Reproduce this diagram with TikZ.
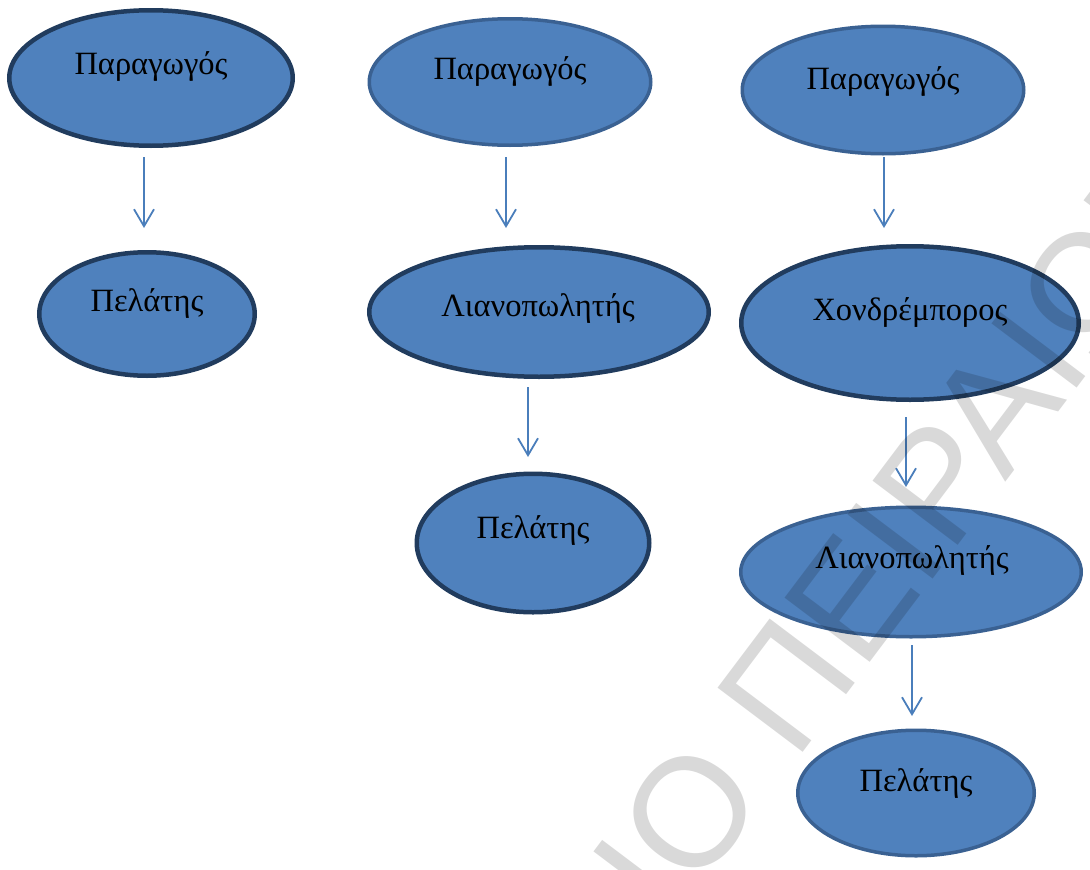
\documentclass[tikz,border=0pt]{standalone}
\usepackage{fontspec}
\setmainfont{Liberation Serif}
\newfontfamily\wmfont{Liberation Sans}
\usetikzlibrary{arrows.meta,shapes.geometric}
\definecolor{fillblue}{HTML}{4F81BD}
\definecolor{darkrim}{HTML}{213C5E}
\definecolor{lightrim}{HTML}{3A6192}
\definecolor{arrowblue}{HTML}{4A7EBB}
\tikzset{
  oval/.style={ellipse, fill=fillblue, inner sep=0pt},
  darkoval/.style={oval, draw=darkrim, line width=4.5pt},
  lightoval/.style={oval, draw=lightrim, line width=3.5pt},
  lbl/.style={anchor=base, inner sep=0pt, font=\fontsize{32.5}{39}\selectfont},
  arr/.style={draw=arrowblue, line width=1.8pt, -{Straight Barb[length=17pt,width=20pt,line width=1.8pt]}},
  wm/.style={inner sep=0pt, text=black, text opacity=0.15, font=\wmfont\fontsize{155}{155}\selectfont}
}
\begin{document}
\begin{tikzpicture}[x=1pt,y=-1pt]
\useasboundingbox (0,0) rectangle (1090,870);
% column 1
\node[darkoval, minimum width=283.5pt, minimum height=135.5pt] (p1) at (151,78) {};
\node[lbl] (p1t) at (151,74) {Παραγωγός};
\node[darkoval, minimum width=215.5pt, minimum height=123.5pt] (c1) at (147,314) {};
\node[lbl] (c1t) at (147,311) {Πελάτης};
% column 2
\node[lightoval, minimum width=281.5pt, minimum height=126.5pt] (p2) at (510,82) {};
\node[lbl] (p2t) at (510,79) {Παραγωγός};
\node[darkoval, minimum width=339.5pt, minimum height=129.5pt] (r2) at (539,312) {};
\node[lbl] (r2t) at (538,316) {Λιανοπωλητής};
\node[darkoval, minimum width=232.5pt, minimum height=138.5pt] (c2) at (533,543) {};
\node[lbl] (c2t) at (533,538) {Πελάτης};
% column 3
\node[lightoval, minimum width=281.5pt, minimum height=127.5pt] (p3) at (883,90) {};
\node[lbl] (p3t) at (883,89) {Παραγωγός};
\node[darkoval, minimum width=337.5pt, minimum height=153.5pt] (h3) at (910,323) {};
\node[lbl] (h3t) at (910,320) {Χονδρέμπορος};
\node[lightoval, minimum width=340.5pt, minimum height=129.5pt] (r3) at (911,572) {};
\node[lbl] (r3t) at (912,568) {Λιανοπωλητής};
\node[lightoval, minimum width=236.5pt, minimum height=125.5pt] (c3) at (916,793) {};
\node[lbl] (c3t) at (916,791) {Πελάτης};
% arrows
\draw[arr] ([shift={(-7,9)}]p1.south) -- ([shift={(-3,-22)}]c1.north);
\draw[arr] ([shift={(-4,10)}]p2.south) -- ([shift={(-33,-17)}]r2.north);
\draw[arr] ([shift={(-11,8)}]r2.south) -- ([shift={(-5,-14.5)}]c2.north);
\draw[arr] ([shift={(1,1.5)}]p3.south) -- ([shift={(-26,-16)}]h3.north);
\draw[arr] ([shift={(-4,15)}]h3.south) -- ([shift={(-5,-18.5)}]r3.north);
\draw[arr] ([shift={(1,6.5)}]r3.south) -- ([shift={(-4,-12.5)}]c3.north);
% watermark
\begin{scope}
\clip (0,0) rectangle (1090,870);
\node[wm, rotate=53, anchor=base] (wm) at (640,968) {ΠΑΝΕΠΙΣΤΗΜΙΟ ΠΕΙΡΑΙΩΣ};
\end{scope}
\end{tikzpicture}
\end{document}
